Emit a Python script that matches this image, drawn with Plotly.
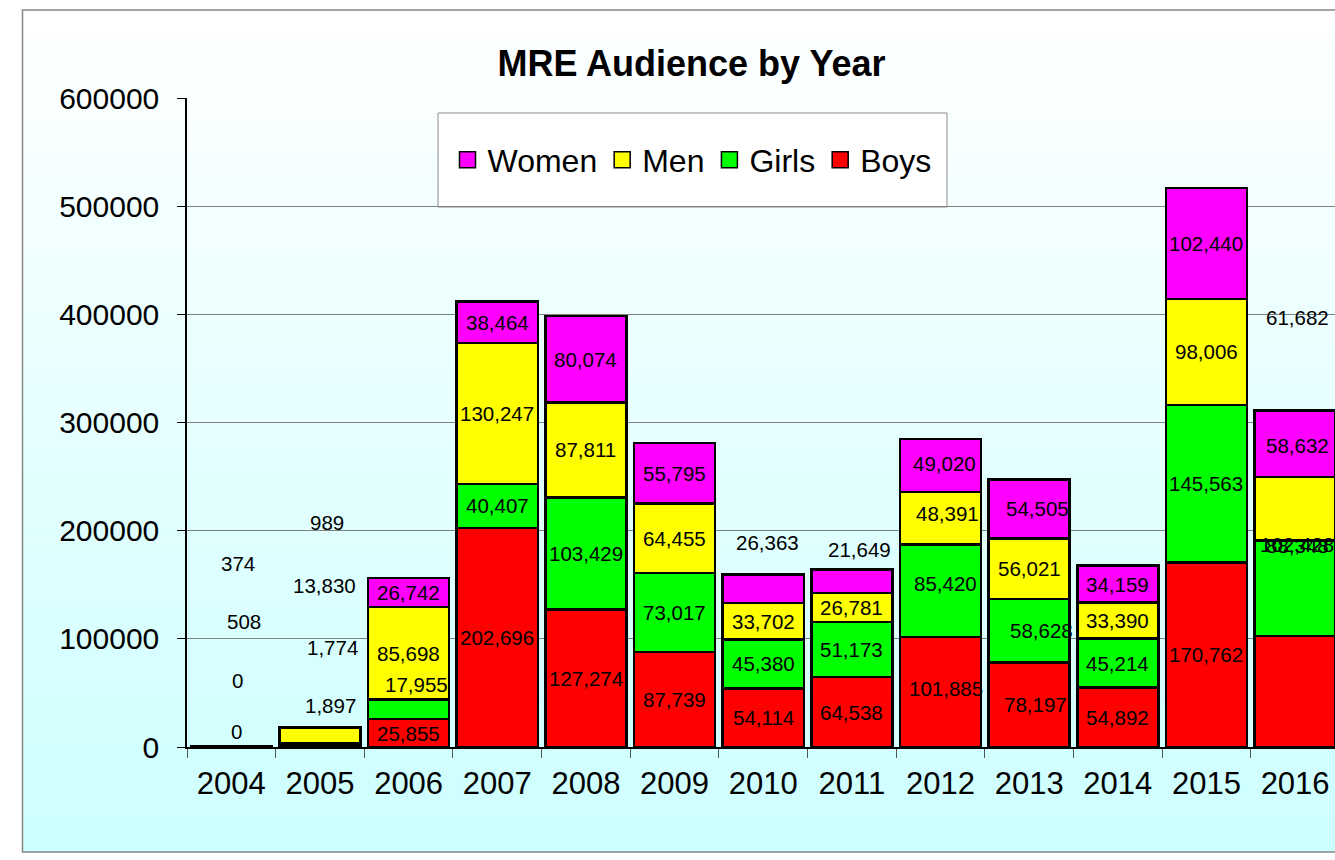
import plotly.graph_objects as go

years = ["2004", "2005", "2006", "2007", "2008", "2009", "2010", "2011", "2012", "2013", "2014", "2015", "2016"]
boys = [0, 1897, 25855, 202696, 127274, 87739, 54114, 64538, 101885, 78197, 54892, 170762, 102428]
girls = [0, 1774, 17955, 40407, 103429, 73017, 45380, 51173, 85420, 58628, 45214, 145563, 88348]
men = [508, 13830, 85698, 130247, 87811, 64455, 33702, 26781, 48391, 56021, 33390, 98006, 58632]
women = [374, 989, 26742, 38464, 80074, 55795, 26363, 21649, 49020, 54505, 34159, 102440, 61682]
y_ticks = [0, 100000, 200000, 300000, 400000, 500000, 600000]

series = [("Boys", boys, "#FF0000"), ("Girls", girls, "#00FF00"),
          ("Men", men, "#FFFF00"), ("Women", women, "#FF00FF")]

# label nudges in pixels (xshift, yshift) for labels Excel had moved off-centre
nudges = {
    ("Boys", 0): (5, 16), ("Girls", 0): (6, 67), ("Men", 0): (13, 125), ("Women", 0): (7, 183),
    ("Boys", 1): (11, 40), ("Girls", 1): (13, 96), ("Men", 1): (5, 150), ("Women", 1): (7, 205),
    ("Girls", 2): (8, 25),
    ("Women", 6): (4, 46),
    ("Women", 7): (8, 32),
    ("Boys", 8): (5, 3), ("Girls", 8): (5, 7), ("Men", 8): (7, 5), ("Women", 8): (4, 2),
    ("Boys", 9): (6, 0), ("Girls", 9): (12, 0), ("Women", 9): (8, 0),
    ("Boys", 12): (2, 147), ("Girls", 12): (2, 43), ("Men", 12): (2, 63), ("Women", 12): (2, 126),
}

W, H = 1335, 860
L, T, B = 187, 98, 747
PW, PH = W - L, B - T


def px_x(p):
    return (p - L) / PW


def px_y(p):
    return (B - p) / PH


xs = list(range(len(years)))
fig = go.Figure()
for name, vals, col in series:
    fig.add_trace(go.Bar(x=xs, y=vals, name=name, marker=dict(color=col, line=dict(color="black", width=2.5)),
                         showlegend=False, hoverinfo="skip"))

# legend entries (Women, Men, Girls, Boys)
for name, vals, col in reversed(series):
    fig.add_trace(go.Scatter(x=[None], y=[None], mode="markers", name=name,
                             marker=dict(symbol="square", size=16, color=col, line=dict(color="black", width=1.5))))

font = "Arial, Liberation Sans, sans-serif"
annotations = []
base = [0] * len(years)
for name, vals, col in series:
    for i, v in enumerate(vals):
        dx, dy = nudges.get((name, i), (0, 0))
        annotations.append(dict(x=i, y=base[i] + v / 2, xref="x", yref="y", text=f"{v:,}", showarrow=False,
                                xshift=dx, yshift=dy, font=dict(family=font, size=20.5, color="black")))
        base[i] += v

shapes = []
N = 70
top, bot = 10, 852
for k in range(N):
    y0 = top + (bot - top) * k / N
    y1 = top + (bot - top) * (k + 1) / N
    t = (k + 0.5) / N
    r = round(255 - (255 - 204) * t)
    shapes.append(dict(type="rect", xref="paper", yref="paper", x0=px_x(23), x1=px_x(1345),
                       y0=px_y(y1 + 0.5), y1=px_y(y0), fillcolor=f"rgb({r},255,255)", line=dict(width=0),
                       layer="below"))
shapes.append(dict(type="rect", xref="paper", yref="paper", x0=px_x(22.5), x1=px_x(1345), y0=px_y(852),
                   y1=px_y(10), line=dict(color="#878787", width=1.5), fillcolor="rgba(0,0,0,0)", layer="below"))
shapes.append(dict(type="rect", xref="paper", yref="paper", x0=px_x(438), x1=px_x(947), y0=px_y(207),
                   y1=px_y(113), line=dict(color="#8c8c8c", width=1), fillcolor="white", layer="below"))

fig.update_layout(
    width=W, height=H, margin=dict(l=L, r=0, t=T, b=H - B),
    barmode="stack", bargap=0.085,
    paper_bgcolor="white", plot_bgcolor="rgba(0,0,0,0)",
    font=dict(family=font, color="black"),
    title=dict(text="<b>MRE Audience by Year</b>", x=691.5 / W, y=1 - 63 / H, xanchor="center",
               yanchor="middle", xref="container", yref="container", font=dict(size=36, family=font, color="black")),
    legend=dict(orientation="h", traceorder="normal", x=px_x(692), xanchor="center", y=px_y(160), yanchor="middle",
                bgcolor="rgba(0,0,0,0)", borderwidth=0, font=dict(size=32, family=font)),
    xaxis=dict(range=[-0.5, 12.45], tickmode="array", tickvals=xs, ticktext=years, ticks="",
               showgrid=False, zeroline=False, showline=True, linecolor="black", linewidth=1.5,
               tickfont=dict(size=31), ticklabelstandoff=8,
               minor=dict(ticks="outside", ticklen=9, tickcolor="#555555", tickmode="linear", tick0=-0.5, dtick=1,
                          showgrid=False)),
    yaxis=dict(range=[0, 600000], tickmode="array", tickvals=y_ticks, tickformat="d", ticks="outside",
               ticklen=8, tickcolor="black", showgrid=True, gridcolor="#808080", gridwidth=1, zeroline=False,
               showline=True, linecolor="black", linewidth=1.5, tickfont=dict(size=30), ticklabelstandoff=12),
    annotations=annotations, shapes=shapes,
)

fig.write_html("out.html", config={"displayModeBar": False},
               post_script="document.body.style.margin='0';document.body.style.overflow='hidden';")
